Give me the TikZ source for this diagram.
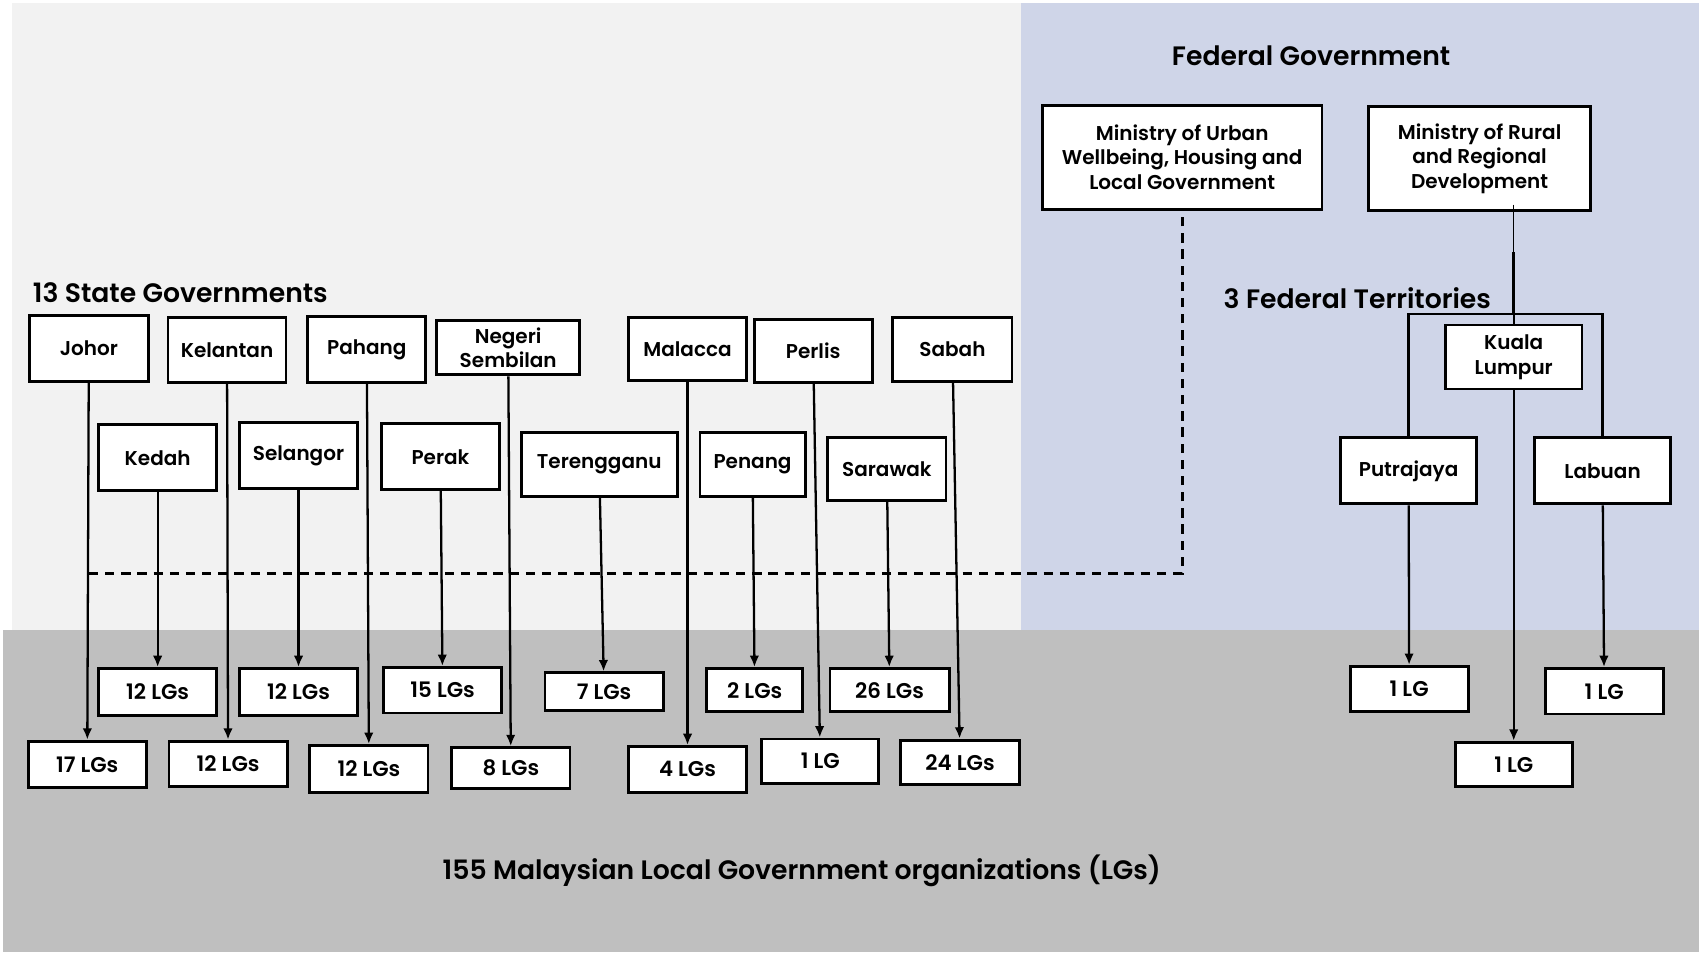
\documentclass[tikz,border=0pt]{standalone}
\usepackage{fontspec}
\IfFontExistsTF{Poppins SemiBold}
  {\setmainfont{Poppins}[BoldFont={Poppins SemiBold}]}
  {\setmainfont{Poppins}}
\usetikzlibrary{arrows.meta,calc}

\definecolor{stateback}{HTML}{F2F2F2}
\definecolor{fedback}{HTML}{CFD5E8}
\definecolor{lgband}{HTML}{BFBFBF}

\tikzset{
  unitbox/.style 2 args={draw, fill=white, line width=1.5pt, inner sep=0pt,
    align=center, minimum width=#1*0.02cm, minimum height=#2*0.02cm,
    font=\bfseries\fontsize{10.5}{13}\selectfont},
  countbox/.style 2 args={unitbox={#1}{#2}, font=\bfseries\fontsize{11.2}{13}\selectfont},
  heading/.style={font=\bfseries\fontsize{14}{16}\selectfont, inner sep=0pt},
  feed/.style={line width=1.2pt, -{Latex[length=6pt,width=5pt]}},
  link/.style={line width=1.2pt},
  oversight/.style={line width=1.5pt, dash pattern=on 4.9pt off 3.6pt},
}

\begin{document}
\begin{tikzpicture}[x=0.02cm,y=-0.02cm]
\useasboundingbox (0,0) rectangle (1568,879);

% background panels
\fill[stateback] (11,3) rectangle (942,581);
\fill[fedback] (942,3) rectangle (1568,581);
\fill[lgband] (3,581) rectangle (1568,879);

% headings
\node[heading] (fedtitle) at (1210,51) {Federal Government};
\node[heading, anchor=west] (statetitle) at (30,270) {13 State Governments};
\node[heading, anchor=west] (terrtitle) at (1129,275) {3 Federal Territories};
\node[heading] (lgtitle) at (740,804) {155 Malaysian Local Government organizations (LGs)};

% federal ministries
\node[unitbox={258}{96}] (urban) at (1091,145) {Ministry of Urban\\Wellbeing, Housing and\\Local Government};
\node[unitbox={205}{96}] (rural) at (1365.5,146.5) {Ministry of Rural\\and Regional\\Development};

% federal territories
\node[unitbox={126}{59}] (kl) at (1397,329.5) {Kuala\\Lumpur};
\node[unitbox={126}{61}] (putrajaya) at (1300,434.5) {Putrajaya};
\node[unitbox={126}{61}] (labuan) at (1479,434.5) {Labuan};
\node[countbox={109}{42}] (lgput) at (1300.5,636) {1 LG};
\node[countbox={109}{42}] (lglab) at (1480.5,638) {1 LG};
\node[countbox={108}{41}] (lgkl) at (1397,705.5) {1 LG};

% states, first row
\node[unitbox={110}{61}] (johor) at (82,321.5) {Johor};
\node[unitbox={109}{60}] (kelantan) at (209.5,323) {Kelantan};
\node[unitbox={109}{61}] (pahang) at (338.5,322.5) {Pahang};
\node[unitbox={132}{50}] (negeri) at (469,321) {Negeri\\Sembilan};
\node[unitbox={109}{58}] (malacca) at (634.5,322) {Malacca};
\node[unitbox={109}{58}] (perlis) at (750.5,324) {Perlis};
\node[unitbox={110}{59}] (sabah) at (879,322.5) {Sabah};

% states, second row
\node[unitbox={109}{61}] (kedah) at (145.5,422.5) {Kedah};
\node[unitbox={109}{61}] (selangor) at (275.5,420.5) {Selangor};
\node[unitbox={109}{61}] (perak) at (406.5,421.5) {Perak};
\node[unitbox={144}{59}] (terengganu) at (553,428.5) {Terengganu};
\node[unitbox={97}{59}] (penang) at (694.5,428.5) {Penang};
\node[unitbox={109}{58}] (sarawak) at (818.5,433) {Sarawak};

% local governments, upper row
\node[countbox={109}{43}] (lgkedah) at (145.5,638.5) {12 LGs};
\node[countbox={109}{43}] (lgselangor) at (275.5,638.5) {12 LGs};
\node[countbox={109}{42}] (lgperak) at (408.5,637) {15 LGs};
\node[countbox={109}{35}] (lgterengganu) at (557.5,638.5) {7 LGs};
\node[countbox={89}{40}] (lgpenang) at (696.5,637) {2 LGs};
\node[countbox={110}{40}] (lgsarawak) at (821,637) {26 LGs};

% local governments, lower row
\node[countbox={109}{43}] (lgjohor) at (80.5,705.5) {17 LGs};
\node[countbox={109}{42}] (lgkelantan) at (210.5,705) {12 LGs};
\node[countbox={109}{43}] (lgpahang) at (340.5,709.5) {12 LGs};
\node[countbox={109}{38}] (lgnegeri) at (471.5,709) {8 LGs};
\node[countbox={109}{42}] (lgmalacca) at (634.5,710) {4 LGs};
\node[countbox={108}{41}] (lgperlis) at (757,702.5) {1 LG};
\node[countbox={110}{41}] (lgsabah) at (886,703.5) {24 LGs};

% ministry of urban wellbeing oversight of the states
\coordinate (dashlevel) at (0,529);
\draw[oversight] (johor.south |- dashlevel) -| (urban.south);

% ministry of rural development over the federal territories
\coordinate (bar) at (0,290);
\coordinate (thick) at (0,233);
\coordinate (ruraldrop) at ($(kl.north |- rural.south)+(0,-7)$);
\draw[line width=0.6pt] (ruraldrop) -- (kl.north |- bar);
\draw[line width=1.5pt] (kl.north |- thick) -- (kl.north |- bar);
\draw[link] (putrajaya.north) |- (labuan.north |- bar) -- (labuan.north);
\draw[link] (kl.north |- bar) -- (kl.north);

% territories to their local governments
\draw[feed] (putrajaya) -- (lgput);
\draw[feed] (labuan) -- (lglab);
\draw[feed] (kl) -- (lgkl);

% states to their local governments
\draw[feed] (johor) -- (lgjohor);
\draw[feed] (kelantan) -- (lgkelantan);
\draw[feed] (pahang) -- (lgpahang);
\draw[feed] (negeri) -- (lgnegeri);
\draw[feed] (malacca) -- (lgmalacca);
\draw[feed] (perlis) -- (lgperlis);
\draw[feed] (sabah) -- (lgsabah);
\draw[feed] (kedah) -- (lgkedah);
\draw[feed] (selangor) -- (lgselangor);
\draw[feed] (perak) -- (lgperak);
\draw[feed] (terengganu) -- (lgterengganu);
\draw[feed] (penang) -- (lgpenang);
\draw[feed] (sarawak) -- (lgsarawak);
\end{tikzpicture}
\end{document}
